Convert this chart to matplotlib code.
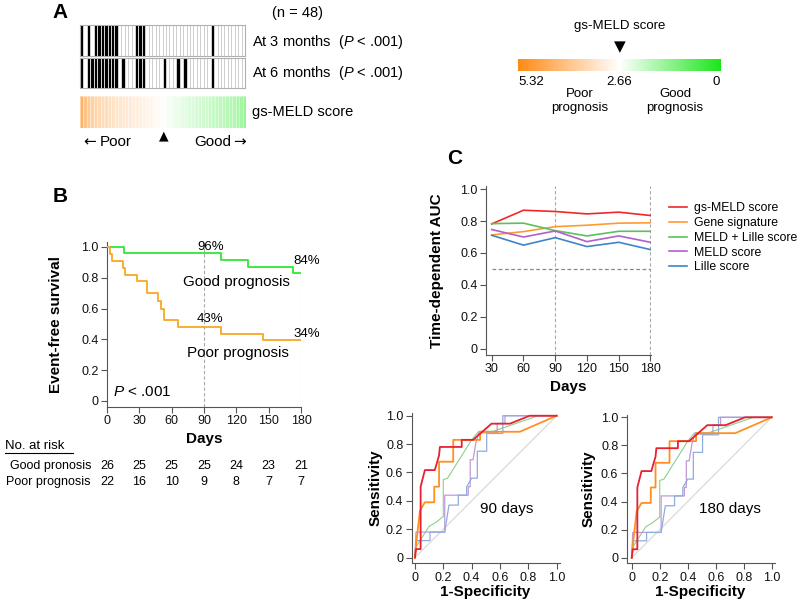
import numpy as np
import matplotlib
matplotlib.use('Agg')
import matplotlib.pyplot as plt
import matplotlib as mpl
from matplotlib.colors import LinearSegmentedColormap, ListedColormap, Normalize
from matplotlib.transforms import blended_transform_factory

plt.rcParams['font.family'] = ['Liberation Sans', 'DejaVu Sans']
plt.rcParams['mathtext.fontset'] = 'custom'
plt.rcParams['mathtext.rm'] = 'Liberation Sans'
plt.rcParams['mathtext.it'] = 'Liberation Sans:italic'

# ---------------- data ----------------
# Panel A: per-patient events (ordered by gs-MELD score, high -> low)
event_3mo = [1, 0, 1, 0, 1, 1, 1, 1, 1, 1, 1, 0, 0, 0, 0, 0, 1, 1, 1, 0, 0, 0, 0, 0,
             0, 0, 0, 0, 0, 0, 0, 0, 0, 0, 0, 0, 0, 0, 1, 0, 0, 0, 0, 0, 0, 0, 0, 0]
event_6mo = [1, 0, 1, 1, 1, 1, 1, 1, 1, 1, 1, 0, 1, 0, 0, 0, 1, 1, 1, 0, 0, 0, 0, 0,
             1, 0, 0, 0, 1, 0, 1, 0, 0, 0, 0, 0, 0, 0, 1, 0, 0, 0, 0, 0, 0, 0, 0, 0]
gs_meld = [4.40, 4.05, 3.85, 3.70, 3.60, 3.52, 3.45, 3.40, 3.35, 3.30, 3.26, 3.22,
           3.18, 3.14, 3.10, 3.06, 3.02, 2.98, 2.94, 2.90, 2.85, 2.80, 2.76, 2.70,
           2.62, 2.55, 2.50, 2.45, 2.40, 2.36, 2.32, 2.28, 2.24, 2.20, 2.16, 2.12,
           2.08, 2.04, 2.00, 1.96, 1.92, 1.88, 1.84, 1.80, 1.76, 1.70, 1.62, 1.50]
score_max, score_cut, score_min = 5.32, 2.66, 0.0

# Panel B: Kaplan-Meier
good_days = [0, 16, 106, 131, 173, 180]
good_surv = [1.0, 0.96, 0.915, 0.87, 0.83, 0.83]
poor_days = [0, 3, 5, 14.5, 17, 27.5, 37.5, 47.5, 50.5, 53, 66, 106, 144.5, 180]
poor_surv = [1.0, 0.955, 0.91, 0.864, 0.82, 0.78, 0.70, 0.65, 0.60, 0.526, 0.478, 0.435, 0.394, 0.394]
risk_days = [0, 30, 60, 90, 120, 150, 180]
risk_good = [26, 25, 25, 25, 24, 23, 21]
risk_poor = [22, 16, 10, 9, 8, 7, 7]

# Panel C: time-dependent AUC
auc_days = [30, 60, 90, 120, 150, 180]
auc_gsmeld = [0.782, 0.868, 0.860, 0.845, 0.856, 0.835]
auc_gene = [0.713, 0.734, 0.765, 0.774, 0.787, 0.789]
auc_meld_lille = [0.784, 0.787, 0.740, 0.707, 0.736, 0.736]
auc_meld = [0.747, 0.700, 0.738, 0.671, 0.707, 0.667]
auc_lille = [0.711, 0.649, 0.696, 0.640, 0.667, 0.621]
model_names = ['gs-MELD score', 'Gene signature', 'MELD + Lille score', 'MELD score', 'Lille score']

# ROC curves (90 and 180 days look identical)
roc_gsmeld_fpr = [0, 0.007, 0.04, 0.04, 0.07, 0.14, 0.17, 0.176, 0.33, 0.33, 0.41, 0.54, 0.67, 0.81, 1.0]
roc_gsmeld_tpr = [0, 0.06, 0.06, 0.50, 0.617, 0.617, 0.72, 0.78, 0.78, 0.83, 0.83, 0.944, 0.944, 1.0, 1.0]
roc_gene_fpr = [0, 0.01, 0.035, 0.07, 0.136, 0.136, 0.17, 0.17, 0.27, 0.27, 0.46, 0.46, 0.74, 1.0]
roc_gene_tpr = [0, 0.11, 0.33, 0.39, 0.39, 0.50, 0.50, 0.676, 0.676, 0.83, 0.83, 0.887, 0.887, 1.0]
roc_ml_fpr = [0, 0.01, 0.10, 0.15, 0.20, 0.20, 0.23, 0.40, 0.45, 0.55, 0.87, 1.0]
roc_ml_tpr = [0, 0.08, 0.22, 0.25, 0.29, 0.55, 0.56, 0.83, 0.89, 0.89, 1.0, 1.0]
roc_meld_fpr = [0, 0.007, 0.21, 0.21, 0.376, 0.376, 0.39, 0.39, 0.41, 0.43, 0.45, 0.58, 0.58, 0.635, 0.635, 1.0]
roc_meld_tpr = [0, 0.18, 0.18, 0.44, 0.44, 0.50, 0.50, 0.69, 0.69, 0.81, 0.88, 0.88, 0.946, 0.946, 1.0, 1.0]
roc_lille_fpr = [0, 0.007, 0.106, 0.106, 0.21, 0.24, 0.306, 0.306, 0.365, 0.365, 0.40, 0.44, 0.44, 0.506, 0.506, 0.62, 0.62, 1.0]
roc_lille_tpr = [0, 0.12, 0.12, 0.18, 0.18, 0.37, 0.37, 0.44, 0.44, 0.50, 0.56, 0.56, 0.75, 0.75, 0.875, 0.875, 1.0, 1.0]

# ---------------- figure ----------------
W, H = 800, 601
fig = plt.figure(figsize=(8, 6.01), dpi=100)


def ax_px(l, t, r, b):
    return fig.add_axes([l / W, 1 - b / H, (r - l) / W, (b - t) / H])


def ftext(x, y, s, **kw):
    return fig.text(x / W, 1 - y / H, s, **kw)


AX_COL = '#555555'


def style_axes(ax, size=9):
    for s in ['top', 'right']:
        ax.spines[s].set_visible(False)
    for s in ['left', 'bottom']:
        ax.spines[s].set_color(AX_COL)
        ax.spines[s].set_linewidth(0.8)
    ax.tick_params(direction='out', length=4, width=0.8, color=AX_COL,
                   labelsize=size, pad=2, labelcolor='#111111')


def fmt(v):
    return '0' if v == 0 else f'{v:.1f}'


# ---- Panel A ----
ftext(60, 12, 'A', fontsize=15, fontweight='bold', ha='center', va='center')
ftext(297, 13, '(n = 48)', fontsize=10.5, ha='center', va='center')

bw = ListedColormap(['white', 'black'])
for row, (top, bot) in zip([event_3mo, event_6mo], [(24.7, 55.7), (58.3, 88.3)]):
    ax = ax_px(80, top, 245, bot)
    ax.pcolormesh(np.array([row]), cmap=bw, vmin=0, vmax=1,
                  edgecolors='#CFCFCF', linewidth=0.45)
    ax.set_xticks([]); ax.set_yticks([])
    for s in ax.spines.values():
        s.set_color('#B0B0B0'); s.set_linewidth(0.8)

ftext(252, 42, 'At 3 months  ($P$ < .001)', fontsize=10.5, ha='left', va='center')
ftext(252, 73, 'At 6 months  ($P$ < .001)', fontsize=10.5, ha='left', va='center')

score_cmap = LinearSegmentedColormap.from_list(
    'gsmeld', [(0.0, '#1AE61A'), (0.5, '#FFFFFF'), (1.0, '#FF8A14')])
score_norm = Normalize(score_min, score_max)

ax_s = ax_px(80, 96, 246, 127.7)
ax_s.pcolormesh(np.array([gs_meld]), cmap=score_cmap, norm=score_norm,
                edgecolors=(1, 1, 1, 0.45), linewidth=0.5)
ax_s.set_xticks([]); ax_s.set_yticks([])
for s in ax_s.spines.values():
    s.set_visible(False)
ftext(252, 112, 'gs-MELD score', fontsize=10.5, ha='left', va='center')
ftext(83, 142, '←', fontsize=11, ha='left', va='center', family='DejaVu Sans')
ftext(100, 142, 'Poor', fontsize=11, ha='left', va='center')
ftext(231, 142, 'Good', fontsize=11, ha='right', va='center')
ftext(246, 142, '→', fontsize=11, ha='right', va='center', family='DejaVu Sans')
ftext(164, 136, '▲', fontsize=9, ha='center', va='center', family='DejaVu Sans')

# colour bar
cax = ax_px(518, 59, 721, 70.7)
cb = mpl.colorbar.ColorbarBase(cax, cmap=score_cmap, norm=score_norm, orientation='horizontal')
cb.outline.set_visible(False)
cax.invert_xaxis()
cax.set_xticks([]); cax.set_yticks([])
ftext(620, 26, 'gs-MELD score', fontsize=9.5, ha='center', va='center')
ftext(620, 47, '▼', fontsize=11, ha='center', va='center', family='DejaVu Sans')
ftext(518, 82, f'{score_max:.2f}', fontsize=9.5, ha='left', va='center')
ftext(619, 82, f'{score_cut:.2f}', fontsize=9.5, ha='center', va='center')
ftext(720, 82, f'{score_min:.0f}', fontsize=9.5, ha='right', va='center')
ftext(580, 101, 'Poor\nprognosis', fontsize=9.5, ha='center', va='center', linespacing=1.25)
ftext(675, 101, 'Good\nprognosis', fontsize=9.5, ha='center', va='center', linespacing=1.25)

# ---- Panel B ----
ftext(60, 197, 'B', fontsize=15, fontweight='bold', ha='center', va='center')
axb = ax_px(107, 241.7, 301, 407)
style_axes(axb)
axb.set_xlim(0, 180)
axb.set_ylim(-0.039, 1.034)
for d in [90, 180]:
    axb.axvline(d, color='#A8A8A8', lw=0.8, ls=(0, (3, 2)), zorder=1)
axb.step(good_days, good_surv, where='post', color='#33E633', lw=1.3, zorder=3)
axb.step(poor_days, poor_surv, where='post', color='#F8A826', lw=1.3, zorder=3)
axb.set_xticks(risk_days)
axb.set_yticks([0, 0.2, 0.4, 0.6, 0.8, 1.0])
axb.set_yticklabels([fmt(v) for v in [0, 0.2, 0.4, 0.6, 0.8, 1.0]])
axb.set_xlabel('Days', fontsize=11, fontweight='bold', labelpad=3)
axb.set_ylabel('Event-free survival', fontsize=11, fontweight='bold')
axb.yaxis.set_label_coords((63 - 107) / 194, 0.5)
axb.text(96, 0.962, '96%', fontsize=9.5, ha='center', va='bottom', clip_on=False)
axb.text(185.5, 0.911, '84%', fontsize=9.5, ha='center', va='center', clip_on=False)
axb.text(95.5, 0.53, '43%', fontsize=9.5, ha='center', va='center', clip_on=False)
axb.text(185.5, 0.435, '34%', fontsize=9.5, ha='center', va='center', clip_on=False)
axb.text(120, 0.775, 'Good prognosis', fontsize=11, ha='center', va='center')
axb.text(121.5, 0.31, 'Poor prognosis', fontsize=11, ha='center', va='center')
axb.text(5.5, 0.06, '$P$ < .001', fontsize=11, ha='left', va='center')

# number at risk
ftext(5, 446, 'No. at risk', fontsize=9.5, ha='left', va='center')
fig.add_artist(plt.Line2D([5 / W, 73 / W], [1 - 453 / H, 1 - 453 / H], color='black', lw=0.8))
ftext(91, 466, 'Good pronosis', fontsize=9, ha='right', va='center')
ftext(91, 482, 'Poor prognosis', fontsize=9, ha='right', va='center')
tr = blended_transform_factory(axb.transData, fig.transFigure)
for d, g, p in zip(risk_days, risk_good, risk_poor):
    axb.text(d, 1 - 466 / H, str(g), transform=tr, fontsize=9, ha='center', va='center', clip_on=False)
    axb.text(d, 1 - 482 / H, str(p), transform=tr, fontsize=9, ha='center', va='center', clip_on=False)

# ---- Panel C: AUC over time ----
ftext(455, 158, 'C', fontsize=15, fontweight='bold', ha='center', va='center')
axc = ax_px(486, 186, 651, 355)
style_axes(axc)
axc.set_xlim(24.6, 180.5)
axc.set_ylim(-0.04, 1.02)
for d in [90, 180]:
    axc.axvline(d, color='#A8A8A8', lw=0.8, ls=(0, (3, 2)), zorder=1)
axc.hlines(0.5, auc_days[0], auc_days[-1], color='#888888', lw=0.9, ls=(0, (3, 2)), zorder=1)
auc_colors = ['#F02828', '#FF9A30', '#5CC05C', '#B060CC', '#3D85C8']
for vals, col, name in zip([auc_gsmeld, auc_gene, auc_meld_lille, auc_meld, auc_lille],
                           auc_colors, model_names):
    axc.plot(auc_days, vals, color=col, lw=1.2, label=name)
axc.set_xticks(auc_days)
axc.set_yticks([0, 0.2, 0.4, 0.6, 0.8, 1.0])
axc.set_yticklabels([fmt(v) for v in [0, 0.2, 0.4, 0.6, 0.8, 1.0]])
axc.set_xlabel('Days', fontsize=11, fontweight='bold', labelpad=3)
axc.set_ylabel('Time-dependent AUC', fontsize=11, fontweight='bold')
axc.yaxis.set_label_coords((444 - 486) / 165, 0.5)
leg = axc.legend(loc='upper left', bbox_to_anchor=(669 / W, 1 - 202.5 / H),
                 bbox_transform=fig.transFigure, frameon=False, fontsize=8.8,
                 handlelength=1.5, handletextpad=0.55, labelspacing=0.22,
                 borderpad=0, borderaxespad=0)

# ---- ROC panels ----
roc_sets = [
    (roc_ml_fpr, roc_ml_tpr, '#8CCF8C', 0.8),
    (roc_meld_fpr, roc_meld_tpr, '#C09AD8', 0.9),
    (roc_lille_fpr, roc_lille_tpr, '#8EACDC', 0.9),
    (roc_gene_fpr, roc_gene_tpr, '#FF9020', 1.3),
    (roc_gsmeld_fpr, roc_gsmeld_tpr, '#E82030', 1.3),
]
roc_ticks = [0, 0.2, 0.4, 0.6, 0.8, 1.0]
for rect, xlo, label, lab_xy, ylab_x in [
        ((411.7, 412.9, 559.5, 563.3), -0.023, '90 days', (506.7, 509), 383),
        ((626.7, 414.5, 774.5, 563.3), -0.036, '180 days', (730, 509.3), 596)]:
    ax = ax_px(*rect)
    style_axes(ax)
    ax.set_xlim(xlo, 1.02)
    ax.set_ylim(-0.04, 1.02)
    ax.plot([0, 1], [0, 1], color='#DADADA', lw=0.9, zorder=1)
    for fx, ty, col, lw in roc_sets:
        ax.plot(fx, ty, color=col, lw=lw, zorder=2)
    ax.set_xticks(roc_ticks)
    ax.set_xticklabels([fmt(v) for v in roc_ticks])
    ax.set_yticks(roc_ticks)
    ax.set_yticklabels([fmt(v) for v in roc_ticks])
    ax.set_xlabel('1-Specificity', fontsize=11, fontweight='bold', labelpad=1)
    ax.set_ylabel('Sensitivity', fontsize=11, fontweight='bold')
    ax.yaxis.set_label_coords((ylab_x - rect[0]) / (rect[2] - rect[0]), 0.5)
    ftext(lab_xy[0], lab_xy[1], label, fontsize=11, ha='center', va='center')

fig.savefig('out.png', dpi=100)
